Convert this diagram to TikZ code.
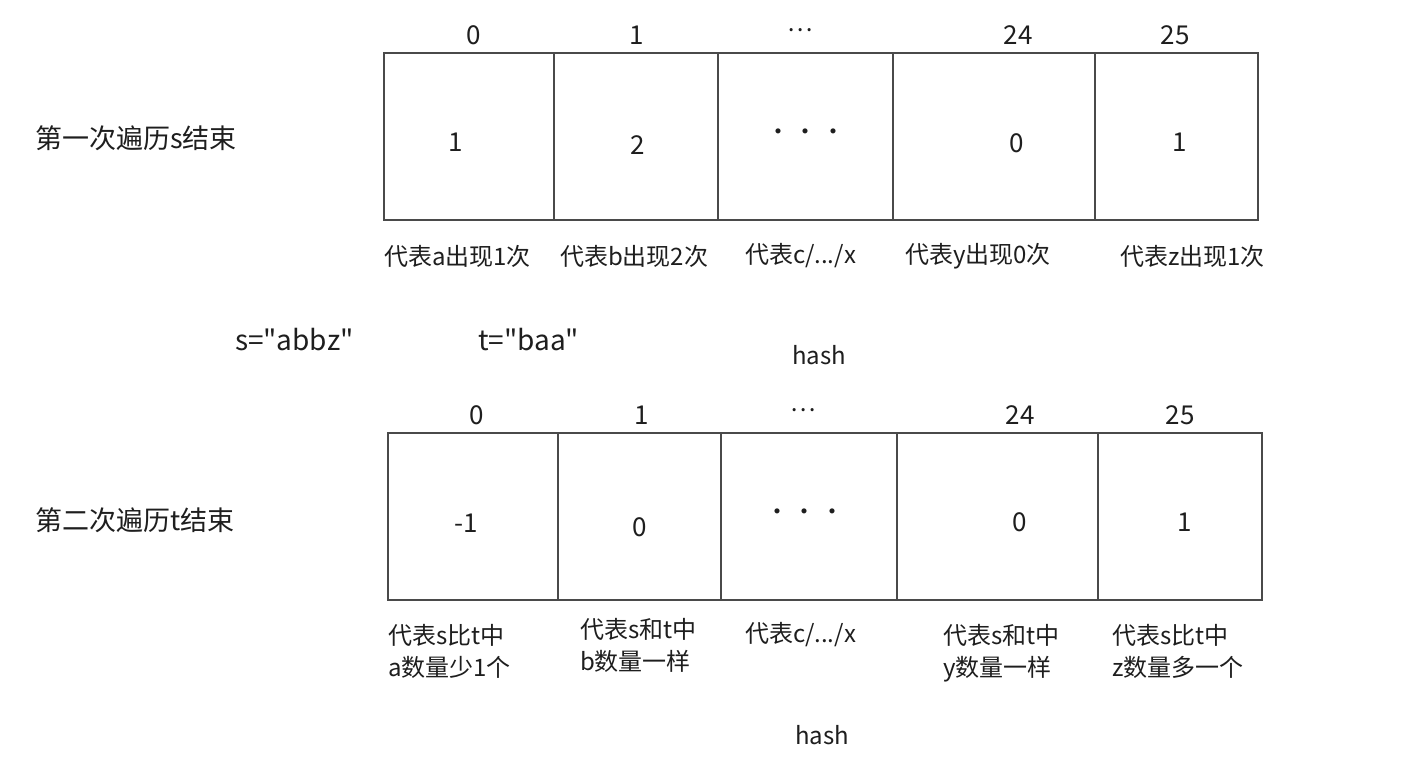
\documentclass[tikz,border=0pt]{standalone}
\usepackage{fontspec}
\setmainfont{Noto Sans CJK SC}[Ligatures=TeXOff]
\usetikzlibrary{positioning}
\definecolor{ink}{HTML}{1E1E1E}
\definecolor{edge}{HTML}{4A4A4A}

\begin{document}
\begin{tikzpicture}[x=1pt,y=-1pt,thin,text=ink,font=\fontsize{24}{32}\selectfont]
\tikzstyle{every node}=[inner sep=0pt,outer sep=0pt]
\tikzstyle{cell}=[draw=edge,line width=1.2pt,minimum height=167pt]
\tikzstyle{num}=[font=\fontsize{26}{32}\selectfont]
\tikzstyle{note}=[anchor=west]
\tikzstyle{memo}=[anchor=north west,align=left]
\tikzstyle{pass}=[anchor=west,font=\fontsize{27}{32}\selectfont]
\tikzstyle{word}=[anchor=west,font=\fontsize{28}{32}\selectfont]

\useasboundingbox (0,0) rectangle (1401,763);

% first pass: counts after s
\node[pass] (L1) at (35,138) {第一次遍历s结束};
\node[cell,minimum width=170pt] (A0) at (469,136.5) {};
\node[cell,minimum width=164pt] (A1) [right=0pt of A0] {};
\node[cell,minimum width=175pt] (A2) [right=0pt of A1] {};
\node[cell,minimum width=202pt] (A3) [right=0pt of A2] {};
\node[cell,minimum width=163pt] (A4) [right=0pt of A3] {};

\node[num] (I0) at (474,35) {0};
\node[num] (I1) at (637,35) {1};
\node (I2) at (800,30) {…};
\node[num] (I3) at (1018,35) {24};
\node[num] (I4) at (1175,35) {25};

\node[num] (V0) at (456,142) {1};
\node[num] (V1) at (638,145) {2};
\node (V2) at (806,135) {·\,·\,·};
\node[num] (V3) at (1017,143) {0};
\node[num] (V4) at (1180,142) {1};

\node[note] (N0) at (384,256) {代表a出现1次};
\node[note] (N1) at (560,256) {代表b出现2次};
\node[note] (N2) at (745,256) {代表c/.../x};
\node[note] (N3) at (905,256) {代表y出现0次};
\node[note] (N4) at (1120,256) {代表z出现1次};

\node[word] (S) at (235,340) {s="abbz"};
\node[word] (T) at (478,340) {t="baa"};
\node (H1) at (819,355) {hash};

% second pass: after t
\node[pass] (L2) at (35,520) {第二次遍历t结束};
\node[cell,minimum width=170pt] (B0) at (473,516.5) {};
\node[cell,minimum width=163pt] (B1) [right=0pt of B0] {};
\node[cell,minimum width=176pt] (B2) [right=0pt of B1] {};
\node[cell,minimum width=201pt] (B3) [right=0pt of B2] {};
\node[cell,minimum width=164pt] (B4) [right=0pt of B3] {};

\node[num] (J0) at (477,415) {0};
\node[num] (J1) at (642,415) {1};
\node (J2) at (803,410) {…};
\node[num] (J3) at (1020,415) {24};
\node[num] (J4) at (1180,415) {25};

\node[num] (W0) at (466,523) {-1};
\node[num] (W1) at (640,527) {0};
\node (W2) at (805,515) {·\,·\,·};
\node[num] (W3) at (1020,522) {0};
\node[num] (W4) at (1185,522) {1};

\node[memo] (M0) at (388,624) {代表s比t中\\a数量少1个};
\node[memo] (M1) at (580,618) {代表s和t中\\b数量一样};
\node[note] (M2) at (745,635) {代表c/.../x};
\node[memo] (M3) at (943,624) {代表s和t中\\y数量一样};
\node[memo] (M4) at (1112,624) {代表s比t中\\z数量多一个};

\node (H2) at (822,735) {hash};
\end{tikzpicture}
\end{document}
